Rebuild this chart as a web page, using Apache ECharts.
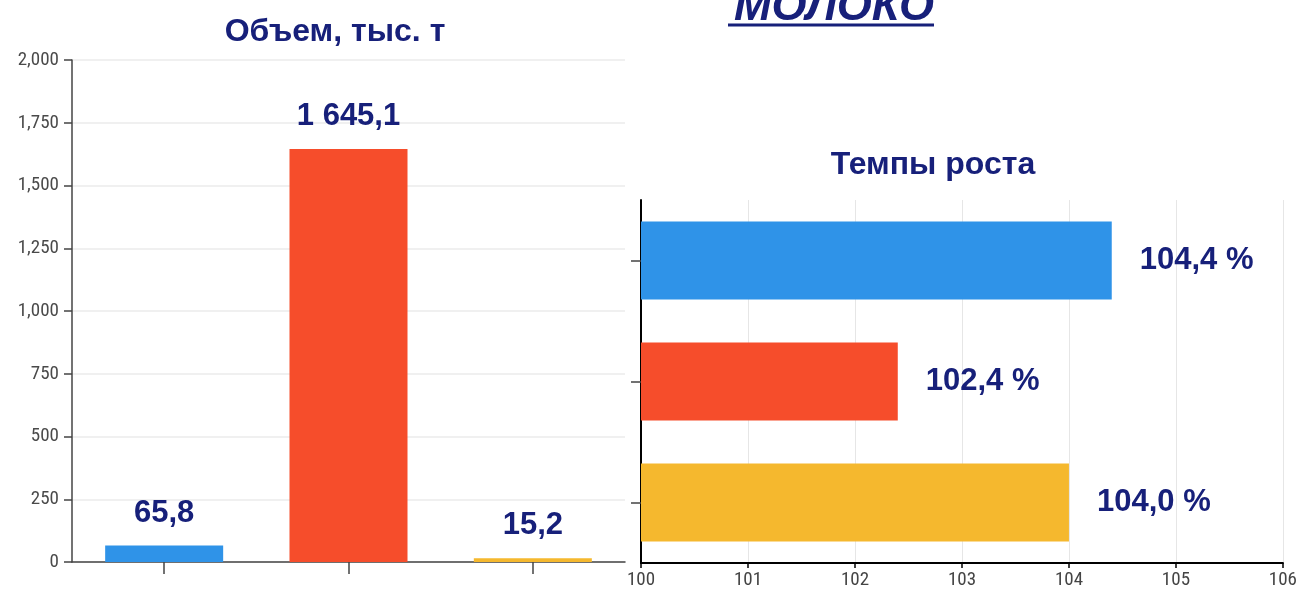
<!DOCTYPE html>
<html>
<head>
<meta charset="utf-8">
<script src="https://cdn.jsdelivr.net/npm/echarts@6/dist/echarts.min.js"></script>
<style>
  html, body { margin: 0; padding: 0; background: #fff; }
  #main { width: 1300px; height: 594px; }
</style>
</head>
<body>
<div id="main"></div>
<script>
// данные
var categories = ['Категория 1', 'Категория 2', 'Категория 3'];
var volumes = [65.8, 1645.1, 15.2];
var volumeLabels = ['65,8', '1 645,1', '15,2'];
var growth = [104.4, 102.4, 104.0];
var growthLabels = ['104,4 %', '102,4 %', '104,0 %'];
var barColors = ['#2f93e8', '#f64d2b', '#f5b82e'];

var navy = '#17207a';
var boldFont = '"Liberation Sans", Arial, sans-serif';
var tickFont = '"Liberation Sans Narrow", "Roboto Condensed", "Liberation Sans", sans-serif';

var myChart = echarts.init(document.getElementById('main'));

var option = {
    backgroundColor: '#fff',
    animation: false,
    title: [{
        text: 'МОЛОКО',
        left: 829,
        textAlign: 'center',
        top: -20,
        textStyle: { color: navy, fontSize: 45, fontWeight: 'bold', fontStyle: 'italic', fontFamily: boldFont }
    }, {
        text: 'Объем, тыс. т',
        left: 330,
        textAlign: 'center',
        top: 11,
        textStyle: { color: navy, fontSize: 32, fontWeight: 'bold', fontFamily: boldFont }
    }, {
        text: 'Темпы роста',
        left: 928,
        textAlign: 'center',
        top: 144,
        textStyle: { color: navy, fontSize: 32, fontWeight: 'bold', fontFamily: boldFont }
    }],
    graphic: [{
        type: 'line',
        shape: { x1: 728, y1: 25, x2: 934, y2: 25 },
        style: { stroke: navy, lineWidth: 3 }
    }],
    grid: [
        { left: 72, right: 675, top: 60, bottom: 32 },
        { left: 641, right: 17, top: 200, bottom: 31 }
    ],
    xAxis: [{
        gridIndex: 0,
        type: 'category',
        data: categories,
        axisLine: { lineStyle: { color: '#444', width: 1.5 } },
        axisTick: { show: true, interval: 0, alignWithLabel: true, length: 12, lineStyle: { color: '#444', width: 1.5 } },
        axisLabel: { show: false, interval: 0 }
    }, {
        gridIndex: 1,
        type: 'value',
        min: 100,
        max: 106,
        interval: 1,
        axisLine: { show: true, lineStyle: { color: '#000', width: 2 } },
        axisTick: { show: true, length: 5, lineStyle: { color: '#000', width: 1.5 } },
        axisLabel: { color: '#444', fontSize: 19, fontFamily: tickFont, margin: 8 },
        splitLine: { show: true, lineStyle: { color: '#e6e6e6', width: 1 } }
    }],
    yAxis: [{
        gridIndex: 0,
        type: 'value',
        min: 0,
        max: 2000,
        interval: 250,
        axisLine: { show: true, lineStyle: { color: '#444', width: 1.5 } },
        axisTick: { show: true, length: 8, lineStyle: { color: '#444', width: 1.5 } },
        axisLabel: {
            color: '#4a4a4a', fontSize: 19, fontFamily: tickFont, margin: 13,
            formatter: function (v) { return v.toLocaleString('en-US'); }
        },
        splitLine: { lineStyle: { color: '#ebebeb', width: 1.5 } }
    }, {
        gridIndex: 1,
        type: 'category',
        data: categories,
        inverse: true,
        axisLine: { lineStyle: { color: '#000', width: 2 } },
        axisTick: { show: true, interval: 0, alignWithLabel: true, length: 10, lineStyle: { color: '#444', width: 1.5 } },
        axisLabel: { show: false, interval: 0 }
    }],
    series: [{
        name: 'Объем',
        type: 'bar',
        xAxisIndex: 0,
        yAxisIndex: 0,
        barWidth: 118,
        data: volumes.map(function (v, i) {
            return { value: v, itemStyle: { color: barColors[i] } };
        }),
        label: {
            show: true,
            position: 'top',
            distance: 17,
            color: navy,
            fontSize: 31,
            fontWeight: 'bold',
            fontFamily: boldFont,
            formatter: function (p) { return volumeLabels[p.dataIndex]; }
        }
    }, {
        name: 'Темпы роста',
        type: 'bar',
        xAxisIndex: 1,
        yAxisIndex: 1,
        barWidth: 78,
        data: growth.map(function (v, i) {
            return { value: v, itemStyle: { color: barColors[i] } };
        }),
        label: {
            show: true,
            position: 'right',
            distance: 28,
            color: navy,
            fontSize: 31,
            fontWeight: 'bold',
            fontFamily: boldFont,
            formatter: function (p) { return growthLabels[p.dataIndex]; }
        }
    }]
};

myChart.setOption(option);
</script>
</body>
</html>
